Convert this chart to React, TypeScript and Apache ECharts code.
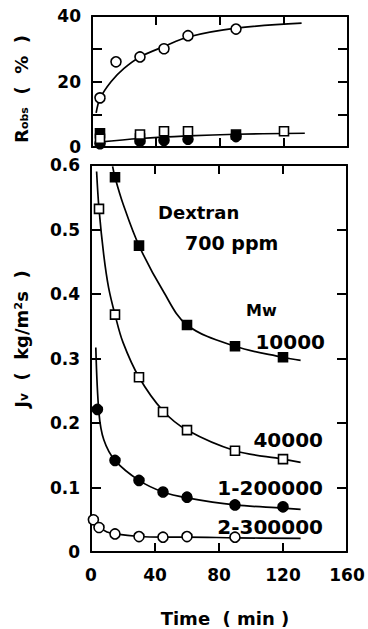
import React, { useEffect, useRef } from "react";
import * as echarts from "echarts";

// ---------- Data ----------
const timeTicks = [0, 40, 80, 120, 160];

// Top panel: Robs (%)
const robsOpenCircleT = [5, 15, 30, 45, 60, 90];
const robsOpenCircle = [15, 26, 27.5, 30, 34, 36];
const robsOpenSquareT = [5, 30, 45, 60, 120];
const robsOpenSquare = [2.5, 3.8, 4.8, 4.8, 4.8];
const robsFilledSquareT = [5, 30, 90];
const robsFilledSquare = [4.2, 2.6, 3.8];
const robsFilledCircleT = [5, 30, 45, 60, 90];
const robsFilledCircle = [1.0, 1.8, 2.0, 2.4, 3.2];

const robsHighCurveT = [2.6, 5, 12, 20, 30, 45, 60, 90, 131];
const robsHighCurve = [10.4, 14.8, 20, 24, 27.5, 30.7, 33.6, 36.3, 37.8];
const robsLowCurveT = [4, 30, 60, 90, 133];
const robsLowCurve = [1.5, 2.6, 3.4, 3.9, 4.2];

// Bottom panel: Jv (kg/m2s)
const jv10000T = [15, 30, 60, 90, 120];
const jv10000 = [0.581, 0.475, 0.352, 0.319, 0.302];
const jv40000T = [5, 15, 30, 45, 60, 90, 120];
const jv40000 = [0.532, 0.368, 0.271, 0.217, 0.189, 0.157, 0.144];
const jv1_200000T = [4, 15, 30, 45, 60, 90, 120];
const jv1_200000 = [0.221, 0.142, 0.111, 0.093, 0.085, 0.073, 0.07];
const jv2_300000T = [1.5, 5, 15, 30, 45, 60, 90];
const jv2_300000 = [0.05, 0.038, 0.028, 0.024, 0.023, 0.024, 0.023];

const curve10000T = [13.5, 15, 20, 30, 45, 60, 90, 120, 131];
const curve10000 = [0.598, 0.581, 0.54, 0.475, 0.405, 0.352, 0.319, 0.302, 0.297];
const curve40000T = [3.5, 5, 8, 11, 15, 20, 30, 45, 60, 90, 120, 131];
const curve40000 = [0.59, 0.532, 0.46, 0.41, 0.368, 0.325, 0.271, 0.219, 0.189, 0.157, 0.144, 0.139];
const curve1_200000T = [3, 5, 8, 15, 30, 45, 60, 90, 120, 131];
const curve1_200000 = [0.317, 0.215, 0.174, 0.142, 0.111, 0.093, 0.084, 0.073, 0.068, 0.066];
const curve2_300000T = [1, 5, 10, 15, 30, 45, 60, 90, 131];
const curve2_300000 = [0.052, 0.039, 0.031, 0.028, 0.024, 0.023, 0.023, 0.022, 0.021];

const seriesLabels = ["10000", "40000", "1-200000", "2-300000"];

// ---------- Helpers ----------
const FONT = "DejaVu Sans";
const zip = (xs: number[], ys: number[]) => xs.map((x, i) => [x, ys[i]]);

function xAxis(gridIndex: number, position: "top" | "bottom", labels: boolean) {
  return {
    type: "value",
    gridIndex,
    position,
    min: timeTicks[0],
    max: timeTicks[timeTicks.length - 1],
    interval: timeTicks[1] - timeTicks[0],
    axisLine: { show: true, onZero: false, lineStyle: { color: "#000", width: 2 } },
    axisTick: { show: true, inside: true, length: 9, lineStyle: { color: "#000", width: 2 } },
    axisLabel: {
      show: labels,
      margin: 14,
      color: "#000",
      fontFamily: FONT,
      fontWeight: "bold",
      fontSize: 17,
    },
    splitLine: { show: false },
  };
}

function yAxis(
  gridIndex: number,
  position: "left" | "right",
  labels: boolean,
  min: number,
  max: number,
  interval: number,
  formatter: (v: number) => string
) {
  return {
    type: "value",
    gridIndex,
    position,
    min,
    max,
    interval,
    axisLine: { show: true, onZero: false, lineStyle: { color: "#000", width: 2 } },
    axisTick: { show: true, inside: true, length: 10, lineStyle: { color: "#000", width: 2 } },
    axisLabel: {
      show: labels,
      margin: 11,
      color: "#000",
      fontFamily: FONT,
      fontWeight: "bold",
      fontSize: 17,
      formatter,
    },
    splitLine: { show: false },
  };
}

function scatter(
  xi: number,
  yi: number,
  data: number[][],
  symbol: string,
  filled: boolean,
  size: number
) {
  return {
    type: "scatter",
    xAxisIndex: xi,
    yAxisIndex: yi,
    data,
    symbol,
    symbolSize: size,
    z: 4,
    itemStyle: {
      color: filled ? "#000" : "#fff",
      borderColor: "#000",
      borderWidth: 1.6,
      opacity: 1,
    },
  };
}

function curve(xi: number, yi: number, data: number[][]) {
  return {
    type: "line",
    xAxisIndex: xi,
    yAxisIndex: yi,
    data,
    smooth: 0.35,
    showSymbol: false,
    symbol: "none",
    z: 2,
    lineStyle: { color: "#000", width: 1.7 },
  };
}

function label(text: string, x: number, y: number, size: number, align: string = "left") {
  return {
    type: "text",
    x,
    y,
    z: 10,
    style: {
      text,
      fill: "#000",
      font: `bold ${size}px "${FONT}"`,
      align,
      verticalAlign: "middle",
    },
  };
}

export default function App() {
  const ref = useRef<HTMLDivElement>(null);

  useEffect(() => {
    document.body.style.margin = "0";
    if (!ref.current) return;
    const chart = echarts.init(ref.current, null, { renderer: "svg" });

    const option = {
      animation: false,
      backgroundColor: "#fff",
      grid: [
        { left: 92, top: 16, width: 256, height: 131 },
        { left: 91, top: 165, width: 256, height: 387 },
      ],
      xAxis: [
        xAxis(0, "bottom", false),
        xAxis(0, "top", false),
        xAxis(1, "bottom", true),
        xAxis(1, "top", false),
      ],
      yAxis: [
        yAxis(0, "left", true, 0, 40, 10, (v) => (v % 20 === 0 ? String(v) : "")),
        yAxis(0, "right", false, 0, 40, 10, (v) => String(v)),
        yAxis(1, "left", true, 0, 0.6, 0.1, (v) => (Math.abs(v) < 1e-9 ? "0" : v.toFixed(1))),
        yAxis(1, "right", false, 0, 0.6, 0.1, (v) => String(v)),
      ],
      series: [
        // top panel
        curve(0, 0, zip(robsHighCurveT, robsHighCurve)),
        curve(0, 0, zip(robsLowCurveT, robsLowCurve)),
        scatter(0, 0, zip(robsFilledCircleT, robsFilledCircle), "circle", true, 10),
        scatter(0, 0, zip(robsFilledSquareT, robsFilledSquare), "rect", true, 9),
        scatter(0, 0, zip(robsOpenSquareT, robsOpenSquare), "rect", false, 9),
        scatter(0, 0, zip(robsOpenCircleT, robsOpenCircle), "circle", false, 10),
        // bottom panel
        curve(2, 2, zip(curve10000T, curve10000)),
        curve(2, 2, zip(curve40000T, curve40000)),
        curve(2, 2, zip(curve1_200000T, curve1_200000)),
        curve(2, 2, zip(curve2_300000T, curve2_300000)),
        { ...scatter(2, 2, zip(jv10000T, jv10000), "rect", true, 9), name: seriesLabels[0] },
        { ...scatter(2, 2, zip(jv40000T, jv40000), "rect", false, 9), name: seriesLabels[1] },
        { ...scatter(2, 2, zip(jv1_200000T, jv1_200000), "circle", true, 10), name: seriesLabels[2] },
        { ...scatter(2, 2, zip(jv2_300000T, jv2_300000), "circle", false, 10), name: seriesLabels[3] },
      ],
      graphic: [
        label("Dextran", 158, 212, 18),
        label("700 ppm", 185, 243, 19),
        label("Mw", 246, 310, 16),
        label(seriesLabels[0], 325, 342, 20, "right"),
        label(seriesLabels[1], 323, 440, 20, "right"),
        label(seriesLabels[2], 323, 488, 20, "right"),
        label(seriesLabels[3], 323, 527, 20, "right"),
        label("Time  ( min )", 225, 618, 18, "center"),
        {
          type: "text",
          x: 20,
          y: 89,
          rotation: Math.PI / 2,
          z: 10,
          style: {
            text: "{a|R}{b|obs}{a|  (  %  )}",
            align: "center",
            verticalAlign: "middle",
            fill: "#000",
            rich: {
              a: { fontFamily: FONT, fontWeight: "bold", fontSize: 18, lineHeight: 20, verticalAlign: "bottom", fill: "#000" },
              b: { fontFamily: FONT, fontWeight: "bold", fontSize: 11, lineHeight: 13, verticalAlign: "bottom", fill: "#000" },
            },
          },
        },
        {
          type: "text",
          x: 20,
          y: 339,
          rotation: Math.PI / 2,
          z: 10,
          style: {
            text: "{a|J}{b|v}{a|  (  kg/m²s  )}",
            align: "center",
            verticalAlign: "middle",
            fill: "#000",
            rich: {
              a: { fontFamily: FONT, fontWeight: "bold", fontSize: 18, lineHeight: 20, verticalAlign: "bottom", fill: "#000" },
              b: { fontFamily: FONT, fontWeight: "bold", fontSize: 12, lineHeight: 13, verticalAlign: "bottom", fill: "#000" },
            },
          },
        },
      ],
    };

    chart.setOption(option as any);
    return () => chart.dispose();
  }, []);

  return <div ref={ref} style={{ width: 368, height: 629 }} />;
}
